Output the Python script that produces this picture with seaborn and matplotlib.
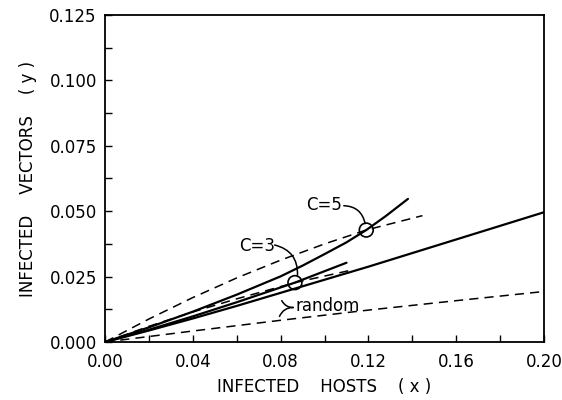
import numpy as np
import pandas as pd
import seaborn as sns
import matplotlib.pyplot as plt
from matplotlib.ticker import MultipleLocator, FormatStrFormatter

# curves (x = infected hosts, y = infected vectors)
x_long = [0.0, 0.02, 0.04, 0.06, 0.08, 0.10, 0.12, 0.14, 0.16, 0.18, 0.20]
y_long = [0.0, 0.0044, 0.0090, 0.0138, 0.0188, 0.0238, 0.0288, 0.0340, 0.0392, 0.0444, 0.0496]

x_c5 = [0.0, 0.02, 0.04, 0.06, 0.08, 0.09, 0.10, 0.11, 0.119, 0.128, 0.138]
y_c5 = [0.0, 0.0056, 0.0116, 0.0181, 0.0251, 0.0292, 0.0336, 0.0381, 0.0428, 0.0482, 0.0547]

x_c3 = [0.0, 0.02, 0.04, 0.06, 0.0865, 0.110]
y_c3 = [0.0, 0.0047, 0.0098, 0.0152, 0.0227, 0.0303]

x_c5_dash = [0.0, 0.02, 0.04, 0.06, 0.08, 0.10, 0.119, 0.1446]
y_c5_dash = [0.0, 0.0088, 0.0170, 0.0245, 0.0313, 0.0375, 0.0428, 0.0483]

x_c3_dash = [0.0, 0.02, 0.04, 0.06, 0.0865, 0.1118]
y_c3_dash = [0.0, 0.0060, 0.0115, 0.0165, 0.0227, 0.0274]

x_rand = [0.0, 0.04, 0.08, 0.12, 0.16, 0.20]
y_rand = [0.0, 0.0042, 0.0083, 0.0122, 0.0158, 0.0193]

# equilibrium points (circles)
x_eq = [0.0865, 0.119]
y_eq = [0.0227, 0.0428]

sns.set_style("ticks")
plt.rcParams['font.family'] = ['DejaVu Sans']
plt.rcParams['text.color'] = 'black'
plt.rcParams['axes.labelcolor'] = 'black'
plt.rcParams['xtick.color'] = 'black'
plt.rcParams['ytick.color'] = 'black'

fig = plt.figure(figsize=(5.62, 4.0), dpi=100)
ax = fig.add_axes([0.187, 0.145, 0.781, 0.8175])

solid = dict(color='black', linewidth=1.6, sort=False)
dash = dict(color='black', linewidth=1.1, linestyle=(0, (6, 4)), sort=False)

sns.lineplot(x=x_long, y=y_long, ax=ax, **solid)
sns.lineplot(x=x_c5, y=y_c5, ax=ax, **solid)
sns.lineplot(x=x_c3, y=y_c3, ax=ax, **solid)
sns.lineplot(x=x_c5_dash, y=y_c5_dash, ax=ax, **dash)
sns.lineplot(x=x_c3_dash, y=y_c3_dash, ax=ax, **dash)
sns.lineplot(x=x_rand, y=y_rand, ax=ax, **dash)

ax.scatter(x_eq, y_eq, s=100, facecolors='none', edgecolors='black', linewidths=1.2, zorder=5)

# labels with curved leaders
ax.text(0.100, 0.0524, "C=5", fontsize=12, ha='center', va='center')
ax.annotate("", xy=(0.1187, 0.0442), xytext=(0.1075, 0.0521),
            arrowprops=dict(arrowstyle='-', color='black', lw=1.1,
                            connectionstyle="arc3,rad=-0.45"))
ax.text(0.0693, 0.0368, "C=3", fontsize=12, ha='center', va='center')
ax.annotate("", xy=(0.0876, 0.0245), xytext=(0.0760, 0.0373),
            arrowprops=dict(arrowstyle='-', color='black', lw=1.1,
                            connectionstyle="arc3,rad=-0.45"))
ax.text(0.1012, 0.0139, "random", fontsize=12, ha='center', va='center')
ax.annotate("", xy=(0.0800, 0.0168), xytext=(0.0870, 0.0132),
            arrowprops=dict(arrowstyle='-', color='black', lw=1.1,
                            connectionstyle="arc3,rad=-0.4"))
ax.annotate("", xy=(0.0790, 0.0088), xytext=(0.0870, 0.0132),
            arrowprops=dict(arrowstyle='-', color='black', lw=1.1,
                            connectionstyle="arc3,rad=0.4"))

ax.set_xlim(0, 0.20)
ax.set_ylim(0, 0.125)
ax.xaxis.set_major_locator(MultipleLocator(0.04))
ax.xaxis.set_minor_locator(MultipleLocator(0.02))
ax.yaxis.set_major_locator(MultipleLocator(0.025))
ax.yaxis.set_minor_locator(MultipleLocator(0.0125))
ax.xaxis.set_major_formatter(FormatStrFormatter('%.2f'))
ax.yaxis.set_major_formatter(FormatStrFormatter('%.3f'))
ax.tick_params(which='both', direction='in', length=5, width=1.0,
               top=False, right=False, labelsize=12)
ax.tick_params(axis='x', which='both', pad=8)
ax.tick_params(axis='y', which='both', pad=6)
for s in ax.spines.values():
    s.set_linewidth(1.3)
    s.set_color('black')

ax.set_xlabel("INFECTED    HOSTS    ( x )", fontsize=12, labelpad=5)
ax.set_ylabel("INFECTED    VECTORS    ( y )", fontsize=12, labelpad=9)

fig.savefig("out.png", dpi=100)
